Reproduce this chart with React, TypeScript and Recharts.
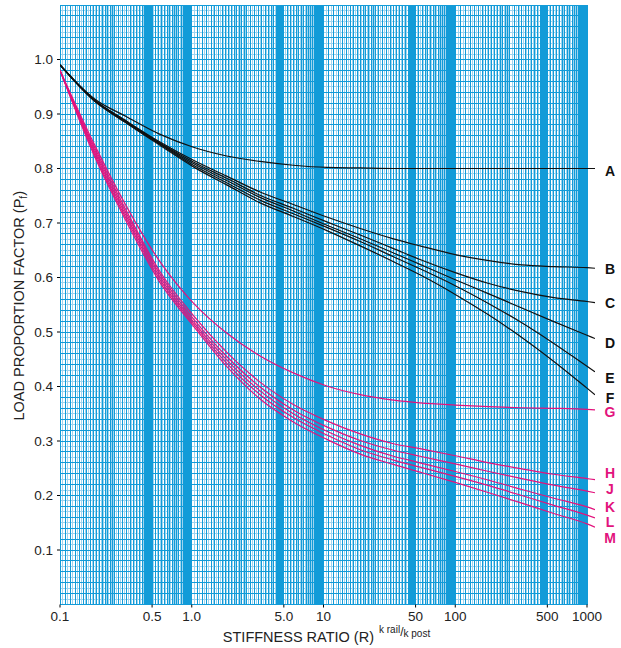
import React from 'react';
import { LineChart, Line, XAxis, YAxis, ReferenceLine } from 'recharts';

// Stiffness ratio R (x, log scale)
const stiffness = [0.1, 0.18, 0.32, 0.57, 1.03, 1.84, 3.3, 5.9, 10.6, 19, 34, 54, 100, 180, 320, 560, 1000, 1150];

// Load proportion factor curves (black)
const curveA = [0.99, 0.929, 0.895, 0.863, 0.839, 0.823, 0.813, 0.806, 0.802, 0.801, 0.8, 0.8, 0.8, 0.8, 0.8, 0.8, 0.8, 0.8];
const curveB = [0.99, 0.927, 0.887, 0.849, 0.815, 0.786, 0.757, 0.734, 0.711, 0.69, 0.671, 0.658, 0.642, 0.631, 0.623, 0.62, 0.618, 0.617];
const curveC = [0.99, 0.926, 0.886, 0.847, 0.812, 0.782, 0.751, 0.727, 0.702, 0.678, 0.653, 0.633, 0.609, 0.589, 0.574, 0.563, 0.556, 0.554];
const curveD = [0.99, 0.926, 0.885, 0.846, 0.809, 0.778, 0.747, 0.722, 0.696, 0.671, 0.645, 0.624, 0.596, 0.57, 0.544, 0.519, 0.494, 0.488];
const curveE = [0.99, 0.925, 0.884, 0.845, 0.806, 0.774, 0.742, 0.717, 0.692, 0.666, 0.638, 0.616, 0.585, 0.552, 0.517, 0.479, 0.437, 0.427];
const curveF = [0.99, 0.925, 0.883, 0.843, 0.803, 0.77, 0.737, 0.712, 0.686, 0.658, 0.629, 0.605, 0.569, 0.531, 0.49, 0.446, 0.397, 0.385];

// Load proportion factor curves (magenta)
const curveG = [0.98, 0.847, 0.73, 0.63, 0.553, 0.498, 0.456, 0.425, 0.401, 0.385, 0.375, 0.37, 0.366, 0.363, 0.361, 0.36, 0.358, 0.357];
const curveH = [0.98, 0.842, 0.722, 0.612, 0.53, 0.463, 0.408, 0.367, 0.337, 0.313, 0.295, 0.286, 0.273, 0.26, 0.249, 0.239, 0.231, 0.229];
const curveJ = [0.98, 0.838, 0.717, 0.607, 0.524, 0.455, 0.399, 0.357, 0.326, 0.301, 0.283, 0.272, 0.258, 0.244, 0.231, 0.219, 0.208, 0.205];
const curveK = [0.98, 0.834, 0.712, 0.602, 0.519, 0.449, 0.392, 0.35, 0.318, 0.292, 0.272, 0.26, 0.244, 0.228, 0.211, 0.195, 0.179, 0.174];
const curveL = [0.98, 0.83, 0.707, 0.597, 0.515, 0.443, 0.385, 0.343, 0.311, 0.284, 0.265, 0.252, 0.235, 0.218, 0.2, 0.182, 0.164, 0.159];
const curveM = [0.98, 0.826, 0.702, 0.592, 0.511, 0.437, 0.377, 0.335, 0.303, 0.276, 0.257, 0.243, 0.224, 0.205, 0.186, 0.167, 0.148, 0.142];

const curveNames = ['A', 'B', 'C', 'D', 'E', 'F', 'G', 'H', 'J', 'K', 'L', 'M'];
const curveValues = [curveA, curveB, curveC, curveD, curveE, curveF, curveG, curveH, curveJ, curveK, curveL, curveM];

const xTicks = [0.1, 0.5, 1, 5, 10, 50, 100, 500, 1000];
const xTickLabels = ['0.1', '0.5', '1.0', '5.0', '10', '50', '100', '500', '1000'];
const yTicks = [0.1, 0.2, 0.3, 0.4, 0.5, 0.6, 0.7, 0.8, 0.9, 1.0];
const yTickLabels = ['0.1', '0.2', '0.3', '0.4', '0.5', '0.6', '0.7', '0.8', '0.9', '1.0'];

// styles (kept separate from data)
const BLACK = '#111111';
const MAGENTA = '#e2137d';
const curveColors = [BLACK, BLACK, BLACK, BLACK, BLACK, BLACK, MAGENTA, MAGENTA, MAGENTA, MAGENTA, MAGENTA, MAGENTA];
const labelDy = [7.5, 5.8, 5.9, 9.4, 11.3, 8.0, 7.5, -1.4, 1.5, 2.1, 9.3, 15.6];
const GRID_DARK = '#129bd8';
const GRID_LIGHT = '#9ed4ef';
const FONT = '"Liberation Sans", Arial, sans-serif';

const data = stiffness.map((r, i) => {
  const row: Record<string, number> = { r };
  curveNames.forEach((n, k) => {
    row[n] = curveValues[k][i];
  });
  return row;
});

// log graph paper rulings: [start, end, step, mid-lines dark?] within each decade (multiplier 1..10)
const rulingBands = [
  [1, 2.6, 0.1, 0],
  [2.6, 4.4, 0.2, 0],
  [4.4, 5, 0.05, 1],
  [5, 8.6, 0.3, 0],
  [8.6, 10, 0.1, 1],
];
const decades = [0.1, 1, 10, 100];
const darkX: number[] = [];
const lightX: number[] = [];
decades.forEach((d) => {
  rulingBands.forEach(([a, b, s, md]) => {
    const n = Math.round((b - a) / s);
    for (let k = 0; k < n; k++) {
      darkX.push(d * (a + s * k));
      (md ? darkX : lightX).push(d * (a + s * k + s / 2));
    }
  });
});
darkX.push(1000);
const darkY: number[] = [];
const lightY: number[] = [];
for (let i = 0; i <= 110; i++) {
  if (i % 2 === 0) darkY.push(i / 100);
  else lightY.push(i / 100);
}

const makeEndLabel = (name: string, color: string, dy: number) => (props: any) => {
  const { x, y, index } = props;
  if (index !== stiffness.length - 1) return <g />;
  return (
    <text x={x + 15} y={y + dy} textAnchor="middle" fill={color} fontSize={14} fontWeight="bold" fontFamily={FONT}>
      {name}
    </text>
  );
};

const YTitle = (props: any) => {
  const vb = props.viewBox || { x: 0, y: 5, width: 60, height: 600 };
  const cx = vb.x + 24;
  const cy = vb.y + vb.height / 2 + 1;
  return (
    <text x={cx} y={cy} transform={`rotate(-90, ${cx}, ${cy})`} textAnchor="middle" fontSize={14.5} fill="#222" fontFamily={FONT}>
      LOAD PROPORTION FACTOR (P<tspan fontSize={10} dy={3}>f</tspan><tspan dy={-3}>)</tspan>
    </text>
  );
};

const XTitle = (props: any) => {
  const vb = props.viewBox || { x: 60, y: 604, width: 535, height: 30 };
  const cx = vb.x + vb.width / 2 - 1;
  const cy = vb.y + 37;
  return (
    <text x={cx} y={cy} textAnchor="middle" fontSize={14.5} fill="#222" fontFamily={FONT}>
      STIFFNESS RATIO (R)
      <tspan fontSize={10} dx={5} dy={-9}>k rail</tspan>
      <tspan fontSize={12} dy={3}>/</tspan>
      <tspan fontSize={10} dx={0} dy={1}>k post</tspan>
    </text>
  );
};

export default function App() {
  return (
    <div style={{ position: 'absolute', left: 0, top: 0, background: '#fff' }}>
      <style>{'.recharts-reference-line line{shape-rendering:crispEdges}'}</style>
      <LineChart width={621} height={648} data={data} margin={{ top: 5, right: 26, bottom: 13.5, left: 0 }}>
        <XAxis
          dataKey="r"
          type="number"
          scale="log"
          domain={[0.1, 1150]}
          ticks={xTicks}
          tickFormatter={(v: number) => xTickLabels[xTicks.indexOf(v)] ?? String(v)}
          axisLine={false}
          tickLine={{ stroke: '#000' }}
          tickSize={3}
          tickMargin={4}
          height={30}
          interval={0}
          tick={{ fontSize: 13.5, fill: '#222', fontFamily: FONT }}
          allowDataOverflow
          label={(p: any) => <XTitle {...p} />}
        />
        <YAxis
          type="number"
          domain={[0, 1.1]}
          ticks={yTicks}
          tickFormatter={(v: number) => yTickLabels[yTicks.indexOf(v)] ?? String(v)}
          axisLine={false}
          tickLine={{ stroke: '#000' }}
          tickSize={3}
          tickMargin={4}
          width={60}
          interval={0}
          tick={{ fontSize: 13.5, fill: '#222', fontFamily: FONT }}
          label={(p: any) => <YTitle {...p} />}
        />
        {lightY.map((v) => (
          <ReferenceLine key={'ly' + v} segment={[{ x: 0.1, y: v }, { x: 1000, y: v }]} stroke={GRID_LIGHT} strokeWidth={1} ifOverflow="visible" />
        ))}
        {lightX.map((v) => (
          <ReferenceLine key={'lx' + v} x={v} stroke={GRID_LIGHT} strokeWidth={1} ifOverflow="visible" />
        ))}
        {darkY.map((v) => (
          <ReferenceLine key={'dy' + v} segment={[{ x: 0.1, y: v }, { x: 1000, y: v }]} stroke={GRID_DARK} strokeWidth={1} ifOverflow="visible" />
        ))}
        {darkX.map((v) => (
          <ReferenceLine key={'dx' + v} x={v} stroke={GRID_DARK} strokeWidth={1} ifOverflow="visible" />
        ))}
        {curveNames.map((n, k) => (
          <Line
            key={n}
            dataKey={n}
            type="monotone"
            stroke={curveColors[k]}
            strokeWidth={1.2}
            dot={false}
            activeDot={false}
            isAnimationActive={false}
            label={makeEndLabel(n, curveColors[k], labelDy[k])}
          />
        ))}
      </LineChart>
    </div>
  );
}
